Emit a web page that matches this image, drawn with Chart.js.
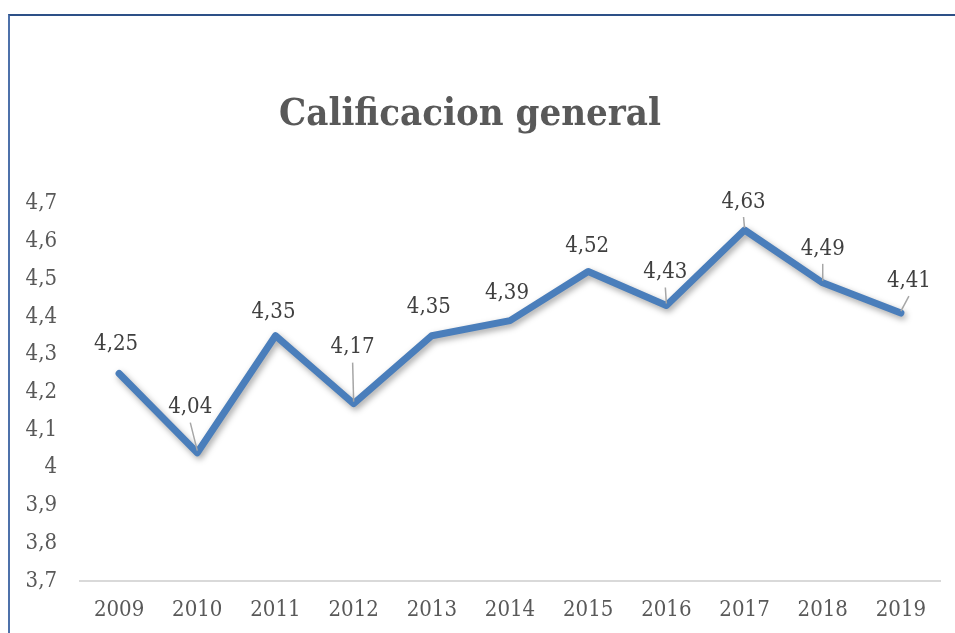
<!DOCTYPE html>
<html>
<head>
<meta charset="utf-8">
<script src="https://cdn.jsdelivr.net/npm/chart.js@4"></script>
<style>
  html, body { margin: 0; padding: 0; background: #fff; }
  #wrap { position: relative; width: 955px; height: 633px; overflow: hidden; }
  #frame {
    position: absolute; left: 8px; top: 14px; width: 960px; height: 640px;
    border-top: 2px solid #2d5087; border-left: 2px solid #4d71aa;
    pointer-events: none;
  }
</style>
</head>
<body>
<div id="wrap">
  <canvas id="chart" width="955" height="633"></canvas>
  <div id="frame"></div>
</div>
<script>
const years = ["2009", "2010", "2011", "2012", "2013", "2014", "2015", "2016", "2017", "2018", "2019"];
const scores = [4.25, 4.04, 4.35, 4.17, 4.35, 4.39, 4.52, 4.43, 4.63, 4.49, 4.41];
const yMin = 3.7;
const yMax = 4.7;
const yStep = 0.1;

// where each value label sits relative to its point (dx, dy, leader line)
const labelShift = [
  [-3, -29, false], [-7, -45, true], [-2, -23, false], [-1, -56, true],
  [-3, -28, false], [-3, -27, false], [-1, -25, false], [-1, -33, true],
  [-1, -28, true], [0, -34, true], [8, -32, true]
];

const serif = '"DejaVu Serif Condensed", "DejaVu Serif", serif';
const comma = v => String(v).replace(".", ",");

const lineShadow = {
  id: "lineShadow",
  beforeDatasetDraw(chart) {
    const ctx = chart.ctx;
    ctx.save();
    ctx.shadowColor = "rgba(0,0,0,0.35)";
    ctx.shadowBlur = 6;
    ctx.shadowOffsetX = 2;
    ctx.shadowOffsetY = 3;
  },
  afterDatasetDraw(chart) {
    chart.ctx.restore();
  }
};

const valueLabels = {
  id: "valueLabels",
  afterDatasetsDraw(chart) {
    const ctx = chart.ctx;
    const meta = chart.getDatasetMeta(0);
    ctx.save();
    ctx.font = "22px " + serif;
    ctx.fillStyle = "#404040";
    ctx.textAlign = "center";
    ctx.textBaseline = "middle";
    ctx.strokeStyle = "#a6a6a6";
    ctx.lineWidth = 1.5;
    meta.data.forEach((pt, i) => {
      const [dx, dy, leader] = labelShift[i];
      const lx = pt.x + dx;
      const ly = pt.y + dy;
      if (leader) {
        ctx.beginPath();
        ctx.moveTo(lx, ly + 15);
        ctx.lineTo(pt.x, pt.y - 2);
        ctx.stroke();
      }
      ctx.fillText(comma(scores[i].toFixed(2)), lx, ly);
    });
    ctx.restore();
  }
};

new Chart(document.getElementById("chart"), {
  type: "line",
  data: {
    labels: years,
    datasets: [{
      data: scores,
      borderColor: "#4a7ebb",
      borderWidth: 7,
      borderCapStyle: "round",
      borderJoinStyle: "round",
      pointRadius: 0,
      tension: 0,
      fill: false
    }]
  },
  options: {
    responsive: false,
    animation: false,
    layout: { padding: { top: 0, left: 0, right: 15, bottom: 0 } },
    plugins: {
      legend: { display: false },
      tooltip: { enabled: false },
      title: {
        display: true,
        text: "Calificacion general",
        color: "#595959",
        font: { family: serif, size: 38, weight: "bold", lineHeight: 1.2 },
        padding: { top: 92, bottom: 66 }
      }
    },
    scales: {
      x: {
        offset: true,
        grid: { display: false, drawTicks: false },
        border: { display: true, color: "#d9d9d9", width: 2 },
        ticks: { color: "#595959", font: { family: serif, size: 22 }, padding: 16 },
        afterFit(s) { s.height = 52; }
      },
      y: {
        min: yMin,
        max: yMax,
        grid: { display: false, drawTicks: false },
        border: { display: false },
        ticks: {
          stepSize: yStep,
          color: "#595959",
          font: { family: serif, size: 22 },
          padding: 23,
          callback: v => comma(Math.round(v * 10) / 10)
        },
        afterFit(s) { s.width = 80; }
      }
    }
  },
  plugins: [lineShadow, valueLabels]
});
</script>
</body>
</html>
